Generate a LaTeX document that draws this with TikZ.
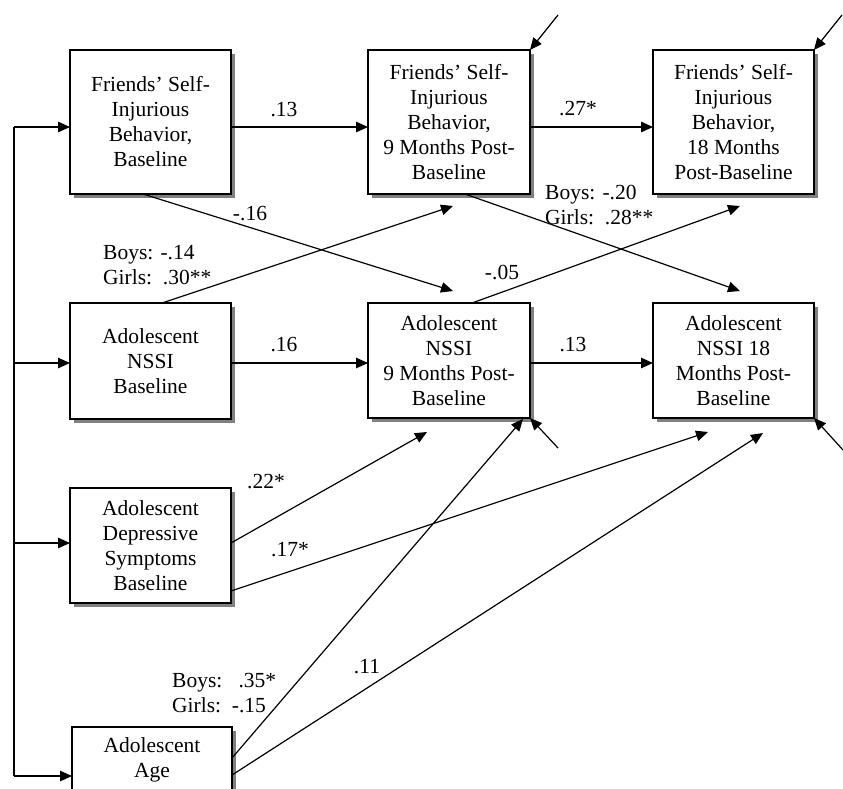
\documentclass[tikz,border=0pt]{standalone}
\usepackage{fontspec}
\setmainfont{Liberation Serif}
\usetikzlibrary{arrows.meta,shadows,calc}
\begin{document}
\begin{tikzpicture}[x=1pt,y=-1pt,
  box/.style={draw, line width=1.3pt, fill=white, align=center, inner sep=0pt, outer sep=0pt,
    font=\fontsize{21.5pt}{25pt}\selectfont,
    drop shadow={shadow xshift=4pt, shadow yshift=-4pt, fill=black!50, opacity=1}},
  txt/.style={align=center, inner sep=0pt, font=\fontsize{21.5pt}{25pt}\selectfont},
  lbl/.style={align=left, inner sep=0pt, font=\fontsize{21.5pt}{25pt}\selectfont},
  ln/.style={line width=1.2pt},
  arr/.style={line width=1.2pt, -{Triangle[length=12pt,width=10.5pt]}}]
\useasboundingbox (0,0) rectangle (843,788);
\clip (0,0) rectangle (843,788);

% boxes
\node[box, minimum width=161pt, minimum height=144pt] (fb) at (150.5,122) {Friends’ Self-\\Injurious\\Behavior,\\Baseline};
\node[box, minimum width=162pt, minimum height=144pt] (f9) at (449,122) {Friends’ Self-\\Injurious\\Behavior,\\9 Months Post-\\Baseline};
\node[box, minimum width=161pt, minimum height=144pt] (f18) at (733.5,122) {Friends’ Self-\\Injurious\\Behavior,\\18 Months\\Post-Baseline};
\node[box, minimum width=161pt, minimum height=116pt] (nb) at (150.5,361) {Adolescent\\NSSI\\Baseline};
\node[box, minimum width=162pt, minimum height=115pt] (n9) at (449,360.5) {Adolescent\\NSSI\\9 Months Post-\\Baseline};
\node[box, minimum width=161pt, minimum height=115pt] (n18) at (733.5,360.5) {Adolescent\\NSSI 18\\Months Post-\\Baseline};
\node[box, minimum width=161pt, minimum height=115pt] (dep) at (150.5,545.5) {Adolescent\\Depressive\\Symptoms\\Baseline};
\node[box, minimum width=160pt, minimum height=100pt] (age) at (152,777) {};
\node[txt] (agetxt) at (152,759.5) {Adolescent\\Age};

% left trunk
\coordinate (t1) at (14,127);
\coordinate (t2) at (14,363);
\coordinate (t3) at (14,543);
\coordinate (t4) at (14,776);
\draw[ln] (t1) -- (t4);
\draw[arr] (t1) -- (t1 -| fb.west);
\draw[arr] (t2) -- (t2 -| nb.west);
\draw[arr] (t3) -- (t3 -| dep.west);
\draw[arr] (t4) -- (t4 -| age.west);

% horizontal paths
\draw[arr] (fb.east |- t1) -- (f9.west |- t1);
\draw[arr] (f9.east |- t1) -- (f18.west |- t1);
\draw[arr] (nb.east |- t2) -- (n9.west |- t2);
\draw[arr] (n9.east |- t2) -- (n18.west |- t2);

% cross paths
\draw[arr] ([xshift=-7.5pt]fb.south) -- ([xshift=4pt,yshift=12pt]n9.north);
\draw[arr] ([xshift=11.5pt]nb.north) -- ([xshift=4pt,yshift=-12pt]f9.south);
\draw[arr] ([xshift=16pt]f9.south) -- ([xshift=6.5pt,yshift=12pt]n18.north);
\draw[arr] ([xshift=23pt]n9.north) -- ([xshift=6.5pt,yshift=-12pt]f18.south);
\draw[arr] ([yshift=2.5pt]dep.east) -- ([xshift=-22pt,yshift=-14pt]n9.south);
\draw[arr] ([yshift=-45.5pt]dep.east) -- ([xshift=-25.5pt,yshift=-14pt]n18.south);
\draw[arr] ([yshift=19pt]age.east) -- ([xshift=-7pt,yshift=-1pt]n9.south east);
\draw[arr] ([yshift=2pt]age.east) -- ([xshift=29.5pt,yshift=-15pt]n18.south);

% error terms
\coordinate (e1) at (558,15);
\coordinate (e2) at (842,15);
\coordinate (e3) at (558,448);
\coordinate (e4) at (843,450);
\draw[arr] (e1) -- (f9.north east);
\draw[arr] (e2) -- (f18.north east);
\draw[arr] (e3) -- (n9.south east);
\draw[arr] (e4) -- (n18.south east);

% labels
\node[lbl] (l1) at (284,110) {.13};
\node[lbl] (l2) at (578,109) {.27*};
\node[lbl] (l3) at (250,214) {-.16};
\node[lbl, anchor=west] (l4) at (103,265.5) {Boys: -.14\\Girls:\ \ .30**};
\node[lbl, anchor=west] (l5) at (545,204.5) {Boys: -.20\\Girls:\ \ .28**};
\node[lbl] (l6) at (502,272) {-.05};
\node[lbl] (l7) at (284,345) {.16};
\node[lbl] (l8) at (573,345) {.13};
\node[lbl] (l9) at (266,482) {.22*};
\node[lbl] (l10) at (290,550) {.17*};
\node[lbl, anchor=west] (l11) at (172,693.5) {Boys:\ \ \ .35*\\Girls:\ \ -.15};
\node[lbl] (l12) at (367,667) {.11};
\end{tikzpicture}
\end{document}
